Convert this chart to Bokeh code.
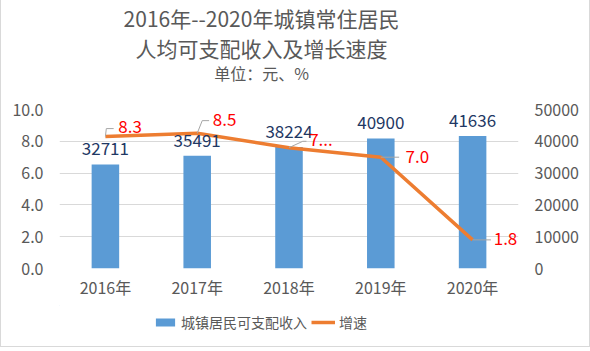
from bokeh.plotting import figure
from bokeh.layouts import column
from bokeh.models import (ColumnDataSource, Range1d, LinearAxis, FixedTicker, Legend, LegendItem,
                          LabelSet, NumeralTickFormatter)
from bokeh.core.properties import value
from bokeh.embed import file_html
from bokeh.resources import INLINE

# ---- data ----
years = ["2016年", "2017年", "2018年", "2019年", "2020年"]
income = [32711, 35491, 38224, 40900, 41636]
growth = [8.3, 8.5, 7.6, 7.0, 1.8]
growth_labels = ["8.3", "8.5", "7...", "7.0", "1.8"]
income_labels = [str(v) for v in income]
title_lines = ["2016年--2020年城镇常住居民", "人均可支配收入及增长速度"]
subtitle = "单位：元、%"
left_ticks = [0, 2, 4, 6, 8, 10]
right_ticks = [0, 10000, 20000, 30000, 40000, 50000]
series_names = ["城镇居民可支配收入", "增速"]

# ---- style offsets for growth data labels (category units / value units) ----
lead_kx = [0.01, 0.055, 0.15, 0.0, 0.0]
lead_ky = [0.5, 0.8, 0.4, 0.0, 0.0]
lead_hx = [0.09, 0.13, 0.19, 0.20, 0.20]
lab_dx = [0.14, 0.17, 0.22, 0.27, 0.23]
lab_dy = [0.6, 0.85, 0.5, 0.05, 0.1]

FONT = "Noto Sans CJK SC"
GREY = "#595959"
BAR_C = "#5B9BD5"
LINE_C = "#ED7D31"
W = 590
FL, FR = 58, 517          # frame left / right (canvas px), shared by all strips
SIDE = {"border-left": "1px solid #d9d9d9", "border-right": "1px solid #d9d9d9",
        "box-sizing": "border-box"}

def strip(height):
    f = figure(width=W, height=height, output_backend="svg", toolbar_location=None,
               x_range=Range1d(FL, FR), y_range=Range1d(height, 0),
               min_border_left=FL, min_border_right=W - FR, min_border_top=0, min_border_bottom=0,
               x_axis_location=None, y_axis_location=None)
    f.title = None
    f.grid.visible = False
    f.outline_line_color = None
    f.styles = SIDE
    return f

# ---------------- title strip ----------------
pt = strip(88)
for txt, yy, sz in [(title_lines[0], 17, "21px"), (title_lines[1], 47, "21px"), (subtitle, 72, "16px")]:
    pt.text(x=[260], y=[yy], text=[txt], text_align="center", text_baseline="middle",
            text_font=value(FONT), text_font_size=sz, text_color=GREY)

# ---------------- main chart ----------------
xs = list(range(len(years)))
src = ColumnDataSource(dict(
    x=xs, income=income, growth=growth, inc_lab=income_labels, g_lab=growth_labels,
    kx=[x + k for x, k in zip(xs, lead_kx)],
    ky=[g + k for g, k in zip(growth, lead_ky)],
    hx=[x + k for x, k in zip(xs, lead_hx)],
    lx=[x + k for x, k in zip(xs, lab_dx)],
    ly=[g + k for g, k in zip(growth, lab_dy)],
))

p = figure(width=W, height=217, output_backend="svg", toolbar_location=None,
           x_range=Range1d(-0.5, len(years) - 0.5), y_range=Range1d(0, 10),
           min_border_left=FL, min_border_right=W - FR, min_border_top=21, min_border_bottom=37)
p.extra_y_ranges = {"inc": Range1d(0, 50000)}
p.outline_line_color = None
p.styles = SIDE

p.yaxis.ticker = FixedTicker(ticks=left_ticks)
p.yaxis.formatter = NumeralTickFormatter(format="0.0")
p.xaxis.ticker = FixedTicker(ticks=xs)
p.xaxis.major_label_overrides = {i: y for i, y in zip(xs, years)}
right = LinearAxis(y_range_name="inc", ticker=FixedTicker(ticks=right_ticks))
p.add_layout(right, "right")
for ax in [p.xaxis[0], p.yaxis[0], right]:
    ax.axis_line_color = None
    ax.major_tick_line_color = None
    ax.minor_tick_line_color = None
    ax.major_label_text_font = FONT
    ax.major_label_text_font_size = "16px"
    ax.major_label_text_color = GREY
    ax.major_label_standoff = 10
p.xaxis.major_label_standoff = 0

p.xgrid.grid_line_color = None
p.ygrid.ticker = FixedTicker(ticks=left_ticks)
p.ygrid.grid_line_color = "#d9d9d9"
p.ygrid.grid_line_width = 1

p.vbar(x="x", top="income", width=0.3, source=src, y_range_name="inc",
       fill_color=BAR_C, line_color=None)
p.line(x="x", y="growth", source=src, line_color=LINE_C, line_width=3.5, line_join="round")

# leader lines
p.segment(x0="x", y0="growth", x1="kx", y1="ky", source=src, line_color="#A6A6A6", line_width=1)
p.segment(x0="kx", y0="ky", x1="hx", y1="ky", source=src, line_color="#A6A6A6", line_width=1)

# data labels
p.add_layout(LabelSet(x="x", y="income", text="inc_lab", source=src, y_range_name="inc",
                      text_align="center", text_baseline="bottom", y_offset=9,
                      text_font=value(FONT), text_font_size="17px", text_color="#1F3864"))
p.add_layout(LabelSet(x="lx", y="ly", text="g_lab", source=src,
                      text_align="left", text_baseline="middle",
                      text_font=value(FONT), text_font_size="17px", text_color="#FF0000"))

# ---------------- legend strip ----------------
pl = strip(42)
pl.styles = dict(SIDE, **{"border-bottom": "1px solid #d9d9d9"})
# legend proxies drawn outside the visible range (only their legend swatches show)
leg_bar = pl.vbar(x=[-1000], top=[-1000], bottom=[-1001], width=1, fill_color=BAR_C, line_color=None)
leg_line = pl.line(x=[-1000, -999], y=[-1000, -1000], line_color=LINE_C, line_width=3.5)
legend = Legend(items=[LegendItem(label=series_names[0], renderers=[leg_bar]),
                       LegendItem(label=series_names[1], renderers=[leg_line])],
                orientation="horizontal", location=(152 - FL, 15),
                padding=0, margin=0, spacing=4, label_standoff=4,
                glyph_width=24, glyph_height=10,
                label_text_font=FONT, label_text_font_size="14px", label_text_color=GREY,
                border_line_color=None, background_fill_alpha=0)
pl.add_layout(legend, "center")

layout = column(pt, p, pl, spacing=0)
open("out.html", "w").write(file_html(layout, INLINE))
